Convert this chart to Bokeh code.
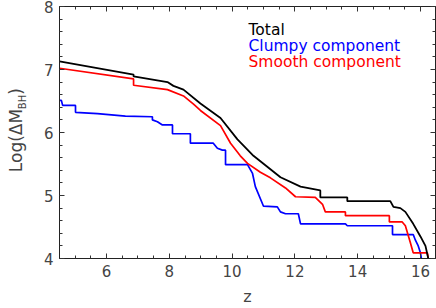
import math
from bokeh.plotting import figure
from bokeh.layouts import row
from bokeh.models import Label, LinearAxis, SingleIntervalTicker, Range1d
from bokeh.core.properties import value
from bokeh.embed import file_html
from bokeh.resources import INLINE

# ---- data ----
z_total = [4.50, 6.86, 6.86, 7.94, 8.13, 8.45, 8.99, 9.63, 10.17, 10.68, 11.06,
           11.54, 12.18, 12.81, 12.81, 13.67, 13.67, 15.04, 15.14, 15.36, 15.52,
           15.77, 16.00, 16.16, 16.25]
lm_total = [7.13, 6.92, 6.89, 6.80, 6.74, 6.68, 6.46, 6.23, 5.89, 5.63, 5.48,
            5.29, 5.14, 5.08, 4.97, 4.97, 4.91, 4.91, 4.82, 4.80, 4.74,
            4.55, 4.35, 4.20, 4.00]

z_smooth = [4.50, 6.86, 6.86, 7.94, 8.45, 8.77, 8.99, 9.63, 9.95, 10.26, 10.49,
            10.90, 11.22, 11.70, 12.02, 12.65, 12.88, 12.97, 13.61, 13.61, 15.01,
            15.01, 15.42, 15.52, 15.68, 15.77, 16.22, 16.25]
lm_smooth = [7.02, 6.85, 6.75, 6.68, 6.58, 6.45, 6.35, 6.11, 5.83, 5.63, 5.51,
             5.37, 5.28, 5.12, 4.98, 4.97, 4.86, 4.74, 4.74, 4.68, 4.68,
             4.58, 4.58, 4.52, 4.25, 4.09, 4.09, 4.00]

z_clumpy = [4.50, 4.56, 4.60, 5.01, 5.01, 5.71, 6.60, 7.46, 7.46, 7.62, 7.78,
            8.10, 8.10, 8.67, 8.67, 9.40, 9.53, 9.69, 9.79, 9.79, 10.49, 10.65,
            10.74, 11.00, 11.44, 11.54, 11.70, 12.11, 12.18, 13.61, 13.67, 15.11,
            15.11, 15.77, 15.84, 15.93, 16.00, 16.03]
lm_clumpy = [6.51, 6.51, 6.43, 6.43, 6.32, 6.30, 6.26, 6.25, 6.20, 6.17, 6.12,
             6.12, 5.98, 5.98, 5.83, 5.83, 5.75, 5.72, 5.72, 5.49, 5.49, 5.35,
             5.14, 4.83, 4.82, 4.74, 4.71, 4.71, 4.55, 4.55, 4.52, 4.52,
             4.38, 4.38, 4.29, 4.20, 4.09, 4.00]

series_names = ["Total", "Clumpy component", "Smooth component"]
series_colors = ["#000000", "#0000ff", "#ff0000"]
ylabel_parts = ["Log(ΔM", "BH", ")"]

FONT = "DejaVu Sans"
TXT = "#444444"
W, H = 436, 308
LW = 28  # width of the strip holding the y-axis title
B_TOP, B_BOT = 6, 42

# ---- main plot ----
p = figure(width=W - LW, height=H, output_backend="svg", toolbar_location=None,
           x_range=Range1d(4.5, 16.48), y_range=Range1d(4, 8),
           min_border_left=59 - LW, min_border_right=1, min_border_top=B_TOP,
           min_border_bottom=B_BOT)
p.grid.visible = False
p.outline_line_color = "#222222"
p.outline_line_width = 1
p.background_fill_color = "white"

p.xaxis.ticker = SingleIntervalTicker(interval=2, num_minor_ticks=4)
p.yaxis.ticker = SingleIntervalTicker(interval=1, num_minor_ticks=5)

def style(ax, labels=True):
    ax.major_tick_in = 5
    ax.major_tick_out = 0
    ax.minor_tick_in = 3
    ax.minor_tick_out = 0
    ax.axis_line_color = "#222222"
    ax.major_tick_line_color = "#333333"
    ax.minor_tick_line_color = "#333333"
    if labels:
        ax.major_label_text_font = FONT
        ax.major_label_text_font_size = "15px"
        ax.major_label_text_color = TXT
    else:
        ax.major_label_text_font_size = "0px"
        ax.major_label_text_color = None
        ax.major_label_standoff = 0

style(p.xaxis[0])
style(p.yaxis[0])
p.xaxis.major_label_standoff = 6
p.yaxis.major_label_standoff = 6
p.xaxis.axis_label = "z"
p.xaxis.axis_label_text_font = FONT
p.xaxis.axis_label_text_font_size = "16px"
p.xaxis.axis_label_text_font_style = "normal"
p.xaxis.axis_label_text_color = TXT
p.xaxis.axis_label_standoff = 7

top = LinearAxis(ticker=SingleIntervalTicker(interval=2, num_minor_ticks=4))
right = LinearAxis(ticker=SingleIntervalTicker(interval=1, num_minor_ticks=5))
style(top, labels=False)
style(right, labels=False)
p.add_layout(top, "above")
p.add_layout(right, "right")

p.line(z_clumpy, lm_clumpy, color=series_colors[1], line_width=1.7)
p.line(z_smooth, lm_smooth, color=series_colors[2], line_width=1.7)
p.line(z_total, lm_total, color=series_colors[0], line_width=1.8)

# legend texts
for i, (name, col) in enumerate(zip(series_names, series_colors)):
    p.add_layout(Label(x=189, y=229 - 16 * i, x_units="screen", y_units="screen",
                       text=name, text_color=col, text_font=FONT,
                       text_font_size="15.5px", text_baseline="alphabetic",
                       text_align="left"))

# ---- narrow strip with the rotated y-axis title (with subscript) ----
# shares the main plot's y range, so the title is placed along the same axis
lab = figure(width=LW, height=H, output_backend="svg", toolbar_location=None,
             x_range=Range1d(0, LW), y_range=p.y_range,
             x_axis_location=None, y_axis_location=None,
             min_border_left=0, min_border_right=0,
             min_border_top=B_TOP, min_border_bottom=B_BOT)
lab.grid.visible = False
lab.outline_line_color = None
lab.text(x=[15, 22, 15], y=[5.37, 6.37, 6.60], text=ylabel_parts,
         angle=math.pi / 2, text_color=TXT, text_font=value(FONT),
         text_font_size=["17px", "10px", "17px"],
         text_baseline="alphabetic", text_align="left")

layout = row(lab, p, spacing=0)
open("out.html", "w").write(file_html(layout, INLINE))
